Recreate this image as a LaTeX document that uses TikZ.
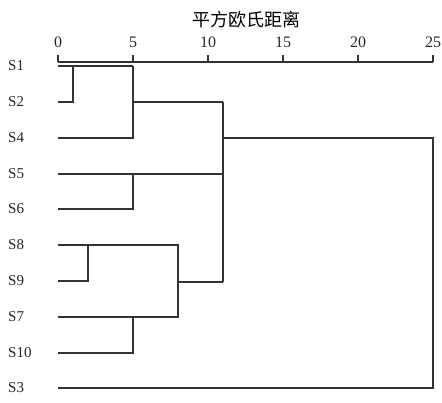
\documentclass[tikz,border=0pt]{standalone}
\usepackage{fontspec}
\setmainfont{Liberation Serif}
\newfontfamily\cjk{Noto Sans CJK SC}
\begin{document}
\begin{tikzpicture}[x=1pt,y=-1pt,
  lbl/.style={font=\fontsize{15}{15}\selectfont, anchor=west, inner sep=0pt, text=black!85},
  ticklbl/.style={font=\fontsize{16}{16}\selectfont, inner sep=0pt, text=black!85},
  link/.style={draw=black!80, line width=1.1pt}]
\useasboundingbox (0,0) rectangle (442,402);
\node[font=\cjk\fontsize{18}{18}\selectfont, text=black] (title) at (246,20) {平方欧氏距离};
% axis
\coordinate (a0) at (58,62);
\coordinate (a25) at (433,62);
\draw[link] (a0) -- (a25);
\foreach \v/\x in {0/58,5/133,10/208,15/283,20/358,25/433}{
  \node[ticklbl] (t\v) at (\x,42) {\v};
  \coordinate (tk\v) at (\x,55);
  \draw[link] (tk\v) -- (\x,62);
}
% leaf labels and line starts
\foreach \n/\y in {S1/66,S2/102,S4/138,S5/174,S6/209,S8/245,S9/281,S7/317,S10/353,S3/388}{
  \node[lbl] (l\n) at (8,\y) {\n};
  \coordinate (p\n) at (58,\y);
}
% join points
\coordinate (j12) at (73,66);   \coordinate (j12b) at (73,102);
\coordinate (j124) at (133,66); \coordinate (j124b) at (133,138);
\coordinate (c124) at (133,102);
\coordinate (j56) at (133,174); \coordinate (j56b) at (133,209);
\coordinate (jA) at (223,102);  \coordinate (jAb) at (223,282);
\coordinate (jA5) at (223,174); \coordinate (cA) at (223,138);
\coordinate (j89) at (88,245);  \coordinate (j89b) at (88,281);
\coordinate (jB) at (178,245);  \coordinate (jBb) at (178,317);
\coordinate (cB) at (178,282);  \coordinate (cBend) at (223,282);
\coordinate (j710) at (133,317); \coordinate (j710b) at (133,353);
\coordinate (jR) at (433,138);  \coordinate (jRb) at (433,388);
% links
\draw[link] (pS1) -- (j124);
\draw[link] (j12) -- (j12b) -- (pS2);
\draw[link] (j124) -- (j124b) -- (pS4);
\draw[link] (c124) -- (jA);
\draw[link] (pS5) -- (jA5);
\draw[link] (j56) -- (j56b) -- (pS6);
\draw[link] (jA) -- (jAb);
\draw[link] (cA) -- (jR) -- (jRb) -- (pS3);
\draw[link] (pS8) -- (jB) -- (jBb) -- (pS7);
\draw[link] (j89) -- (j89b) -- (pS9);
\draw[link] (cB) -- (cBend);
\draw[link] (j710) -- (j710b) -- (pS10);
\end{tikzpicture}
\end{document}
